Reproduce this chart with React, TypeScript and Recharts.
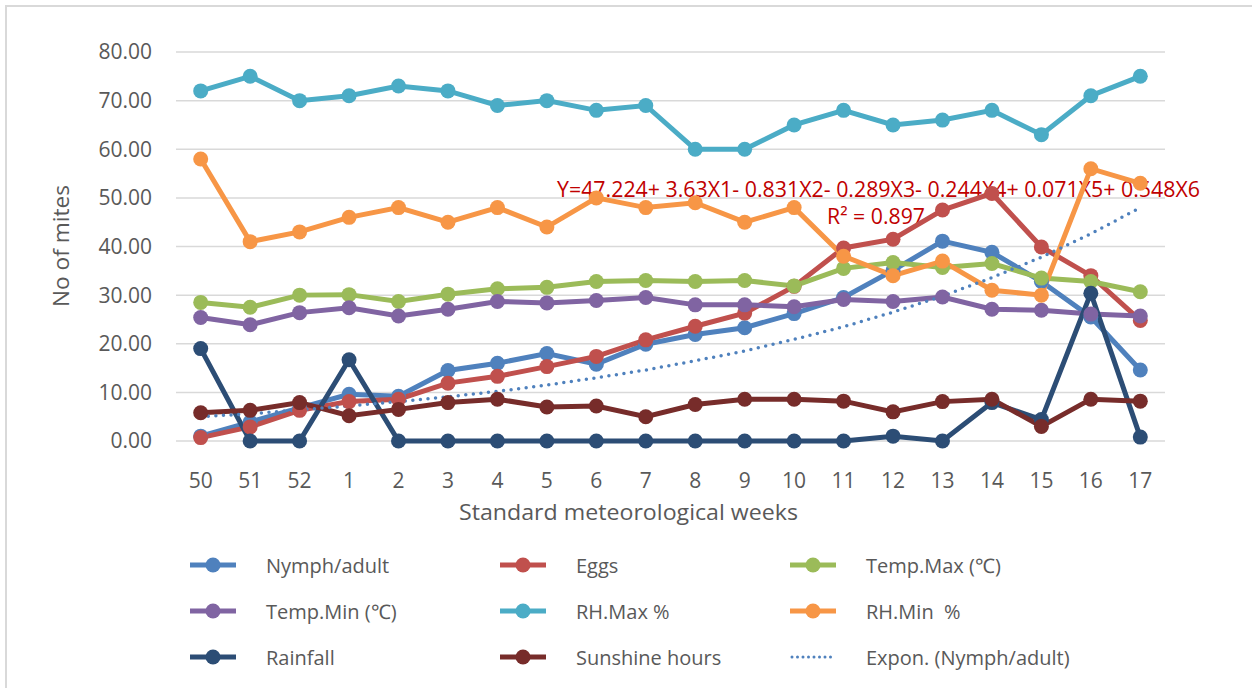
import React from 'react';
import {
  LineChart,
  Line,
  XAxis,
  YAxis,
  CartesianGrid,
  Legend,
  Customized
} from 'recharts';

// Standard meteorological weeks
const weeks = ['50', '51', '52', '1', '2', '3', '4', '5', '6', '7', '8', '9', '10', '11', '12', '13', '14', '15', '16', '17'];

const nymphAdult = [1.0, 3.9, 6.8, 9.6, 9.2, 14.5, 16.0, 18.0, 15.8, 19.9, 21.9, 23.3, 26.2, 29.5, 35.1, 41.1, 38.8, 32.8, 25.5, 14.6];
const eggs = [0.7, 2.9, 6.3, 8.1, 8.6, 11.9, 13.3, 15.3, 17.4, 20.8, 23.6, 26.3, 31.8, 39.7, 41.5, 47.5, 50.9, 39.9, 34.0, 24.8];
const tempMax = [28.5, 27.5, 30.0, 30.1, 28.7, 30.2, 31.3, 31.6, 32.8, 33.0, 32.8, 33.0, 31.9, 35.5, 36.7, 35.7, 36.5, 33.5, 32.8, 30.7];
const tempMin = [25.4, 23.9, 26.4, 27.4, 25.7, 27.1, 28.7, 28.4, 28.9, 29.5, 28.0, 28.0, 27.6, 29.1, 28.7, 29.6, 27.1, 26.9, 26.1, 25.7];
const rhMax = [72, 75, 70, 71, 73, 72, 69, 70, 68, 69, 60, 60, 65, 68, 65, 66, 68, 63, 71, 75];
const rhMin = [58, 41, 43, 46, 48, 45, 48, 44, 50, 48, 49, 45, 48, 38, 34, 37, 31, 30, 56, 53];
const rainfall = [19.0, 0, 0, 16.7, 0, 0, 0, 0, 0, 0, 0, 0, 0, 0, 1.0, 0, 7.9, 4.4, 30.4, 0.8];
const sunshine = [5.8, 6.3, 7.9, 5.2, 6.5, 7.9, 8.6, 7.0, 7.2, 5.0, 7.5, 8.6, 8.6, 8.2, 6.0, 8.1, 8.6, 3.0, 8.6, 8.2];
// exponential trendline of Nymph/adult
const nymphTrend = [5.0, 5.6, 6.4, 7.2, 8.1, 9.1, 10.2, 11.5, 13.0, 14.6, 16.5, 18.5, 20.9, 23.5, 26.5, 29.8, 33.6, 37.8, 42.6, 48.0];

const yTicks = [0, 10, 20, 30, 40, 50, 60, 70, 80];

const series = [
  { key: 'nymph', name: 'Nymph/adult', color: '#4F81BD', values: nymphAdult },
  { key: 'eggs', name: 'Eggs', color: '#C0504D', values: eggs },
  { key: 'tmax', name: 'Temp.Max (\u2103)', color: '#9BBB59', values: tempMax },
  { key: 'tmin', name: 'Temp.Min (\u2103)', color: '#8064A2', values: tempMin },
  { key: 'rhmax', name: 'RH.Max %', color: '#4BACC6', values: rhMax },
  { key: 'rhmin', name: 'RH.Min  %', color: '#F79646', values: rhMin },
  { key: 'rain', name: 'Rainfall', color: '#2C4D75', values: rainfall },
  { key: 'sun', name: 'Sunshine hours', color: '#772C2A', values: sunshine }
];
const trend = { key: 'trend', name: 'Expon. (Nymph/adult)', color: '#4F81BD', values: nymphTrend };

const data = weeks.map((w, i) => {
  const row: Record<string, string | number> = { week: w };
  series.forEach(s => { row[s.key] = s.values[i]; });
  row[trend.key] = trend.values[i];
  return row;
});

const FONT = '"Open Sans", sans-serif';
const TEXT = '#595959';

const renderLegend = () => {
  const items = [...series.map(s => ({ ...s, dotted: false })), { ...trend, dotted: true }];
  return (
    <div
      style={{
        display: 'grid',
        gridTemplateColumns: '310px 290px 320px',
        gridAutoRows: '46px',
        paddingLeft: 190,
        fontFamily: FONT,
        fontSize: 20,
        color: TEXT
      }}
    >
      {items.map(it => (
        <div key={it.key} style={{ display: 'flex', alignItems: 'center', whiteSpace: 'pre' }}>
          <svg width={46} height={16} style={{ marginRight: 30 }}>
            {it.dotted ? (
              <line x1={2} y1={8} x2={44} y2={8} stroke={it.color} strokeWidth={3} strokeDasharray="0 5.5" strokeLinecap="round" />
            ) : (
              <>
                <line x1={0} y1={8} x2={46} y2={8} stroke={it.color} strokeWidth={5} />
                <circle cx={23} cy={8} r={7.5} fill={it.color} />
              </>
            )}
          </svg>
          <span>{it.name}</span>
        </div>
      ))}
    </div>
  );
};

// frame, axis titles and the regression note sit under the series
const Decorations = () => (
  <g fontFamily={FONT}>
    <rect x={6} y={6} width={1260} height={700} fill="none" stroke="#D9D9D9" strokeWidth={2} />
    <text x={61} y={246} transform="rotate(-90 61 246)" textAnchor="middle" dominantBaseline="central" fontSize={21} fill={TEXT} textLength={122} lengthAdjust="spacingAndGlyphs">
      No of mites
    </text>
    <text x={628.5} y={520} textAnchor="middle" fontSize={21} fill={TEXT} textLength={339} lengthAdjust="spacingAndGlyphs">
      Standard meteorological weeks
    </text>
    <text x={557} y={197} fontSize={21} fill="#C00000" textLength={643} lengthAdjust="spacingAndGlyphs">
      Y=47.224+ 3.63X1- 0.831X2- 0.289X3- 0.244X4+ 0.071X5+ 0.548X6
    </text>
    <text x={827} y={224} fontSize={21} fill="#C00000" textLength={98} lengthAdjust="spacingAndGlyphs">
      R² = 0.897
    </text>
  </g>
);

export default function App() {
  return (
    <div style={{ position: 'absolute', left: 0, top: 0, width: 1252, height: 688, background: '#fff' }}>
      <LineChart
        width={1252}
        height={688}
        data={data}
        margin={{ top: 52, right: 87, left: 0, bottom: 0 }}
        style={{ fontFamily: FONT }}
      >
        <CartesianGrid vertical={false} stroke="#D9D9D9" strokeWidth={1.5} />
        <XAxis
          dataKey="week"
          axisLine={false}
          tickLine={false}
          tickSize={0}
          tickMargin={32}
          height={247}
          padding={{ left: 24.7, right: 24.7 }}
          interval={0}
          tick={{ fill: TEXT, fontSize: 21, fontFamily: FONT }}
        />
        <YAxis
          domain={[0, 80]}
          ticks={yTicks}
          width={176}
          axisLine={false}
          tickLine={false}
          tickSize={0}
          tickMargin={24}
          tickFormatter={(v: number) => v.toFixed(2)}
          tick={{ fill: TEXT, fontSize: 21, fontFamily: FONT }}
        />
        <Legend
          layout="horizontal"
          verticalAlign="middle"
          align="center"
          content={renderLegend}
          wrapperStyle={{ left: 0, top: 542, width: 1252, height: 140 }}
        />
        <Customized component={Decorations} />
        {series.map(s => (
          <Line
            key={s.key}
            dataKey={s.key}
            name={s.name}
            stroke={s.color}
            strokeWidth={5}
            dot={{ r: 7.5, fill: s.color, stroke: s.color, strokeWidth: 0 }}
            activeDot={false}
            isAnimationActive={false}
          />
        ))}
        <Line
          dataKey={trend.key}
          name={trend.name}
          stroke={trend.color}
          strokeWidth={3.5}
          strokeDasharray="0 7.6"
          strokeLinecap="round"
          dot={false}
          activeDot={false}
          isAnimationActive={false}
        />
      </LineChart>
    </div>
  );
}
